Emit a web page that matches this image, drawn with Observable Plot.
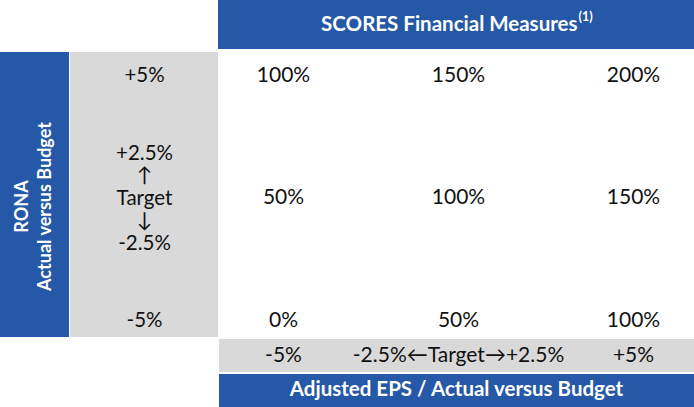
<!DOCTYPE html>
<html>
<head>
<meta charset="utf-8">
<script src="https://cdn.jsdelivr.net/npm/d3@7"></script>
<script src="https://cdn.jsdelivr.net/npm/@observablehq/plot@0.6"></script>
<style>
  html, body { margin: 0; padding: 0; background: #fff; }
  svg { display: block; }
</style>
</head>
<body>
<div id="chart"></div>
<script>
// ---------- data ----------
const epsLevels = [-5, 0, 5];                       // Adjusted EPS vs budget (%)
const epsLabels = ["-5%", "-2.5%\u2190Target\u2192+2.5%", "+5%"];
const ronaLevels = [5, 0, -5];                      // RONA vs budget (%)
const ronaLabels = ["+5%", "+2.5%\n\u2191\nTarget\n\u2193\n-2.5%", "-5%"];
const payout = [                                    // rows follow ronaLevels, columns follow epsLevels
  [100, 150, 200],
  [50, 100, 150],
  [0, 50, 100]
];
const headerTitle = "SCORES Financial Measures";
const headerNote = "(1)";
const xTitle = "Adjusted EPS / Actual versus Budget";
const yTitleLines = ["RONA", "Actual versus Budget"];

// ---------- layout (page pixels -> scale units) ----------
const W = 694, H = 407;
const ux = p => (p - 458) / 35;
const uy = p => (197 - p) / 24.5;
const BLUE = "#2558a6", GREY = "#d9d9d9", INK = "#111";

const panels = [
  {x1: ux(218), x2: ux(694), y1: uy(0),   y2: uy(49),  fill: BLUE},
  {x1: ux(0),   x2: ux(69),  y1: uy(52),  y2: uy(337), fill: BLUE},
  {x1: ux(70),  x2: ux(218), y1: uy(52),  y2: uy(337), fill: GREY},
  {x1: ux(219), x2: ux(694), y1: uy(339), y2: uy(372), fill: GREY},
  {x1: ux(219), x2: ux(694), y1: uy(374), y2: uy(407), fill: BLUE}
];

const cells = payout.flatMap((row, i) => row.map((v, j) => ({
  eps: epsLevels[j], rona: ronaLevels[i], label: v + "%"
})));
const colHeads = epsLevels.map((e, j) => ({eps: e, label: epsLabels[j]}));
const rowHeads = ronaLevels.map((r, i) => ({rona: r, label: ronaLabels[i]}));

const FONT = "Lato, 'Open Sans', sans-serif";

const chart = Plot.plot({
  width: W,
  height: H,
  margin: 0,
  x: {domain: [ux(0), ux(W)], axis: null},
  y: {domain: [uy(H), uy(0)], axis: null},
  style: {fontFamily: FONT, background: "#fff", color: INK},
  marks: [
    Plot.rect(panels, {x1: "x1", x2: "x2", y1: "y1", y2: "y2", fill: "fill"}),
    // payout matrix
    Plot.text(cells, {x: "eps", y: "rona", text: "label", fontSize: 21, fill: INK}),
    // EPS column labels (grey bottom row)
    Plot.text(colHeads, {x: "eps", y: uy(355), text: "label", fontSize: 21, fill: INK}),
    // RONA row labels (grey left column)
    Plot.text(rowHeads, {x: ux(144), y: "rona", text: "label", fontSize: 20.5, lineHeight: 1.1, fill: INK}),
    // header
    Plot.text([headerTitle], {x: ux(577), y: uy(24), text: d => d, textAnchor: "end", fontSize: 20.5, fontWeight: "bold", fill: "#fff"}),
    Plot.text([headerNote], {x: ux(578), y: uy(16), text: d => d, textAnchor: "start", fontSize: 12.5, fontWeight: "bold", fill: "#fff"}),
    // x title
    Plot.text([xTitle], {x: ux(456), y: uy(389), text: d => d, fontSize: 20.5, fontWeight: "bold", fill: "#fff"}),
    // y title (rotated)
    Plot.text(yTitleLines, {x: (d, i) => ux(i === 0 ? 22 : 45), y: uy(206), text: d => d, rotate: -90, fontSize: 18, fontWeight: "bold", fill: "#fff"})
  ]
});
document.getElementById("chart").append(chart);
</script>
</body>
</html>
